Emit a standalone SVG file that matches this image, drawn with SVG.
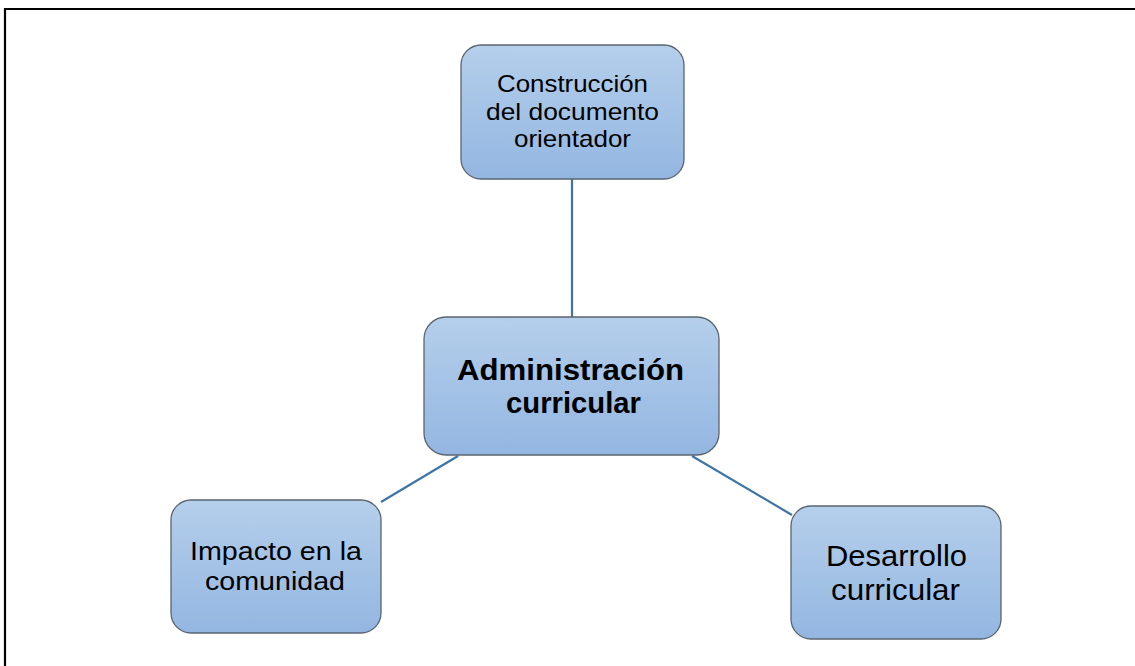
<svg xmlns="http://www.w3.org/2000/svg" width="1135" height="666" viewBox="0 0 1135 666">
<defs>
<linearGradient id="g" x1="0" y1="0" x2="0" y2="1">
<stop offset="0" stop-color="#b5cfeb"/>
<stop offset="1" stop-color="#93b6e1"/>
</linearGradient>
<style>
.box{fill:url(#g);stroke:#5a6470;stroke-width:1.3}
.t{font-family:"Liberation Sans",Arial,sans-serif;fill:#000;text-anchor:middle}
.c{stroke:#3f74a8;stroke-width:2.2;fill:none}
</style>
</defs>
<rect width="1135" height="666" fill="#fff"/>
<path d="M5 666 V9 H1135" fill="none" stroke="#000" stroke-width="2.2"/>
<g id="connectors">
<line class="c" x1="572" y1="179" x2="572" y2="317"/>
<line class="c" x1="458" y1="456" x2="381" y2="502"/>
<line class="c" x1="692" y1="456" x2="792" y2="515"/>
</g>
<g id="n-top">
<rect class="box" x="461" y="45" width="223" height="134" rx="20"/>
<text class="t" font-size="24" lengthAdjust="spacingAndGlyphs"><tspan x="572.5" y="92" textLength="151" lengthAdjust="spacingAndGlyphs">Construcción</tspan><tspan x="572.5" y="120" textLength="173" lengthAdjust="spacingAndGlyphs">del documento</tspan><tspan x="572.5" y="147" textLength="117" lengthAdjust="spacingAndGlyphs">orientador</tspan></text>
</g>
<g id="n-center">
<rect class="box" x="424" y="317" width="295" height="138" rx="22"/>
<text class="t" font-size="30" font-weight="bold"><tspan x="570.5" y="380" textLength="227" lengthAdjust="spacingAndGlyphs">Administración</tspan><tspan x="573.5" y="413" textLength="135" lengthAdjust="spacingAndGlyphs">curricular</tspan></text>
</g>
<g id="n-left">
<rect class="box" x="171" y="500" width="210" height="133" rx="20"/>
<text class="t" font-size="26"><tspan x="276" y="560" textLength="172" lengthAdjust="spacingAndGlyphs">Impacto en la</tspan><tspan x="275" y="590" textLength="140" lengthAdjust="spacingAndGlyphs">comunidad</tspan></text>
</g>
<g id="n-right">
<rect class="box" x="791" y="506" width="210" height="133" rx="20"/>
<text class="t" font-size="29"><tspan x="896.5" y="566" textLength="141" lengthAdjust="spacingAndGlyphs">Desarrollo</tspan><tspan x="895.5" y="600" textLength="129" lengthAdjust="spacingAndGlyphs">curricular</tspan></text>
</g>
</svg>
